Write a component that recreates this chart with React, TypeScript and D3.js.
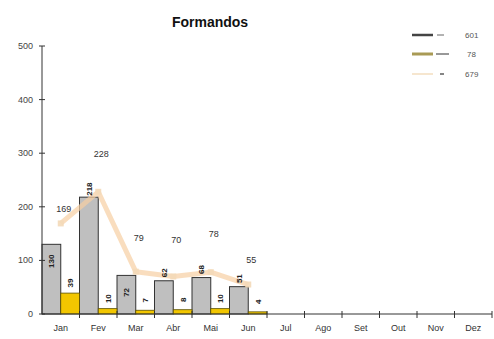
import React from "react";
import * as d3 from "d3";

// Monthly graduates: two bar series and their monthly total as a line
const months = ["Jan", "Fev", "Mar", "Abr", "Mai", "Jun", "Jul", "Ago", "Set", "Out", "Nov", "Dez"];
const seriesA = [130, 218, 72, 62, 68, 51];
const seriesB = [39, 10, 7, 8, 10, 4];
const totals = [169, 228, 79, 70, 78, 55];
const yTicks = [0, 100, 200, 300, 400, 500];
const legendLabels = ["601", "78", "679"];
// whether the value of a grey bar sits inside its top edge
const seriesAInside = [true, false, true, false, false, false];
// how far each total label is lifted above its point
const totalLift = [11, 35, 31, 33, 35, 22];

const W = 494;
const H = 339;
const left = 42;
const right = 492;
const top = 46;
const bottom = 314;

export default function App() {
  const x = d3.scaleBand<string>().domain(months).range([left, right]).padding(0);
  const y = d3.scaleLinear().domain([0, 500]).range([bottom, top]);
  const bw = x.bandwidth();
  const half = bw / 2;

  const lineGen = d3
    .line<number>()
    .x((_, i) => (x(months[i]) as number) + half)
    .y((d) => y(d));

  const font = "'Liberation Sans', Arial, sans-serif";

  return (
    <svg width={W} height={H} style={{ position: "absolute", left: 0, top: 0, background: "#fff" }}>
      <text x={210} y={27} textAnchor="middle" fontFamily={font} fontSize={14} fontWeight="bold" fill="#111">
        Formandos
      </text>

      {/* grey bars */}
      {seriesA.map((v, i) => {
        const x0 = x(months[i]) as number;
        return (
          <rect key={"a" + i} x={x0} y={y(v)} width={half} height={bottom - y(v)} fill="#bfbfbf" stroke="#333" strokeWidth={1} />
        );
      })}
      {/* yellow bars */}
      {seriesB.map((v, i) => {
        const x0 = (x(months[i]) as number) + half;
        return (
          <rect key={"b" + i} x={x0} y={y(v)} width={half} height={bottom - y(v)} fill="#f2c600" stroke="#5a5000" strokeWidth={0.8} />
        );
      })}

      {/* total line */}
      <path d={lineGen(totals) || ""} fill="none" stroke="#f6cfa2" strokeOpacity={0.7} strokeWidth={5} strokeLinejoin="round" />
      {totals.map((v, i) => (
        <rect key={"m" + i} x={(x(months[i]) as number) + half - 3} y={y(v) - 3} width={6} height={6} fill="#f3d9b8" opacity={0.9} />
      ))}

      {/* axes */}
      <line x1={left} x2={left} y1={top} y2={bottom} stroke="#333" strokeWidth={1} />
      <line x1={left} x2={right} y1={bottom} y2={bottom} stroke="#333" strokeWidth={1} />
      {yTicks.map((t) => (
        <g key={"yt" + t}>
          <line x1={left - 3} x2={left + 3} y1={y(t)} y2={y(t)} stroke="#333" />
          <text x={33} y={y(t) + 3} textAnchor="end" fontFamily={font} fontSize={9} fill="#444">
            {t}
          </text>
        </g>
      ))}
      {months.map((m, i) => {
        const x0 = x(m) as number;
        return (
          <g key={"xt" + m}>
            <line x1={x0 + bw} x2={x0 + bw} y1={bottom - 3} y2={bottom + 4} stroke="#333" />
            <text x={x0 + half} y={331} textAnchor="middle" fontFamily={font} fontSize={9} fill="#333">
              {m}
            </text>
          </g>
        );
      })}

      {/* bar value labels */}
      {seriesA.map((v, i) => {
        const cx = (x(months[i]) as number) + half / 2;
        const cy = seriesAInside[i] ? y(v) + 17 : y(v) - 8;
        return (
          <text key={"la" + i} transform={`translate(${cx + 3},${cy}) rotate(-90)`} textAnchor="middle" fontFamily={font} fontSize={8} fontWeight="bold" fill="#222">
            {v}
          </text>
        );
      })}
      {seriesB.map((v, i) => {
        const cx = (x(months[i]) as number) + half + half / 2;
        const cy = y(v) - 10;
        return (
          <text key={"lb" + i} transform={`translate(${cx + 3},${cy}) rotate(-90)`} textAnchor="middle" fontFamily={font} fontSize={8} fontWeight="bold" fill="#222">
            {v}
          </text>
        );
      })}
      {totals.map((v, i) => (
        <text key={"lt" + i} x={(x(months[i]) as number) + half + 3} y={y(v) - totalLift[i]} textAnchor="middle" fontFamily={font} fontSize={9} fill="#333">
          {v}
        </text>
      ))}

      {/* legend */}
      <g>
        <line x1={412} x2={433} y1={35} y2={35} stroke="#444" strokeWidth={2.5} />
        <line x1={437} x2={444} y1={35} y2={35} stroke="#666" strokeWidth={1} />
        <text x={465} y={38} fontFamily={font} fontSize={8} fill="#555">{legendLabels[0]}</text>

        <line x1={412} x2={433} y1={54} y2={54} stroke="#a99a55" strokeWidth={3} />
        <line x1={436} x2={449} y1={54} y2={54} stroke="#333" strokeWidth={1} />
        <text x={467} y={57} fontFamily={font} fontSize={8} fill="#555">{legendLabels[1]}</text>

        <line x1={412} x2={433} y1={74} y2={74} stroke="#f6e6cf" strokeWidth={2} />
        <line x1={440} x2={444} y1={74} y2={74} stroke="#333" strokeWidth={1.2} />
        <text x={465} y={77} fontFamily={font} fontSize={8} fill="#555">{legendLabels[2]}</text>
      </g>
    </svg>
  );
}
